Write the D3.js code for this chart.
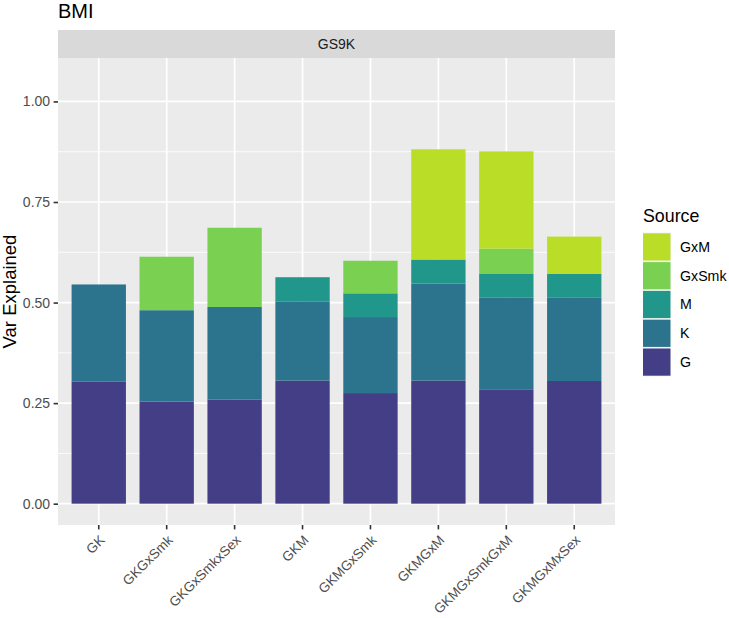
<!DOCTYPE html>
<html>
<head>
<meta charset="utf-8">
<script src="https://cdn.jsdelivr.net/npm/d3@7"></script>
<style>
  body { margin: 0; background: #fff; }
  svg { font-family: "Liberation Sans", Arial, Helvetica, sans-serif; }
</style>
</head>
<body>
<div id="chart"></div>
<script>
// data
var models = ["GK", "GKGxSmk", "GKGxSmkxSex", "GKM", "GKMGxSmk", "GKMGxM", "GKMGxSmkGxM", "GKMGxMxSex"];
var sources = ["G", "K", "M", "GxSmk", "GxM"];   // stacking order, bottom to top
var G     = [0.304, 0.254, 0.259, 0.306, 0.275, 0.306, 0.283, 0.305];
var K     = [0.241, 0.227, 0.230, 0.197, 0.189, 0.241, 0.229, 0.208];
var M     = [0.000, 0.000, 0.000, 0.060, 0.059, 0.060, 0.059, 0.058];
var GxSmk = [0.000, 0.133, 0.197, 0.000, 0.081, 0.000, 0.063, 0.000];
var GxM   = [0.000, 0.000, 0.000, 0.000, 0.000, 0.274, 0.242, 0.093];
var yTicks = [0, 0.25, 0.5, 0.75, 1];
var yMinor = [0.125, 0.375, 0.625, 0.875];
var colors = ["#433E85", "#2C738E", "#21968B", "#7AD151", "#BADE28"];

var width = 729, height = 618;
var panel = {left: 58, right: 615, top: 58, bottom: 525};
var smallFont = 14;

var rows = models.map(function(m, i) {
  return {model: m, G: G[i], K: K[i], M: M[i], GxSmk: GxSmk[i], GxM: GxM[i]};
});
var stacked = d3.stack().keys(sources)(rows);

// discrete axis with 0.6 step expansion on each side, bars 0.8 wide
var step = (panel.right - panel.left) / (models.length - 1 + 1.2);
var xScale = d3.scaleBand()
  .domain(models)
  .range([panel.left + 0.1 * step, panel.right - 0.1 * step])
  .paddingInner(0.2)
  .paddingOuter(0.1);

var yScale = d3.scaleLinear()
  .domain([-0.053, 1.108])
  .range([panel.bottom, panel.top]);

var color = d3.scaleOrdinal().domain(sources).range(colors);

var svg = d3.select("#chart").append("svg")
  .attr("width", width)
  .attr("height", height);

// title
svg.append("text")
  .attr("x", panel.left)
  .attr("y", 18)
  .attr("font-size", 20)
  .attr("fill", "#000")
  .text("BMI");

// strip
svg.append("rect")
  .attr("x", panel.left).attr("y", 30)
  .attr("width", panel.right - panel.left).attr("height", 28)
  .attr("fill", "#D9D9D9");
svg.append("text")
  .attr("x", (panel.left + panel.right) / 2)
  .attr("y", 44)
  .attr("dy", "0.35em")
  .attr("text-anchor", "middle")
  .attr("font-size", smallFont)
  .attr("fill", "#1A1A1A")
  .text("GS9K");

// panel
svg.append("rect")
  .attr("x", panel.left).attr("y", panel.top)
  .attr("width", panel.right - panel.left).attr("height", panel.bottom - panel.top)
  .attr("fill", "#EBEBEB");

var grid = svg.append("g");
grid.selectAll(".minor").data(yMinor).enter().append("line")
  .attr("x1", panel.left).attr("x2", panel.right)
  .attr("y1", yScale).attr("y2", yScale)
  .attr("stroke", "#fff").attr("stroke-width", 0.85);
grid.selectAll(".major").data(yTicks).enter().append("line")
  .attr("x1", panel.left).attr("x2", panel.right)
  .attr("y1", yScale).attr("y2", yScale)
  .attr("stroke", "#fff").attr("stroke-width", 1.7);
grid.selectAll(".vmajor").data(models).enter().append("line")
  .attr("x1", function(d) { return xScale(d) + xScale.bandwidth() / 2; })
  .attr("x2", function(d) { return xScale(d) + xScale.bandwidth() / 2; })
  .attr("y1", panel.top).attr("y2", panel.bottom)
  .attr("stroke", "#fff").attr("stroke-width", 1.7);

// bars
svg.append("g").selectAll("g")
  .data(stacked)
  .enter().append("g")
    .attr("fill", function(d) { return color(d.key); })
  .selectAll("rect")
  .data(function(d) { return d.filter(function(p) { return p[1] - p[0] > 0; }); })
  .enter().append("rect")
    .attr("x", function(d) { return xScale(d.data.model); })
    .attr("width", xScale.bandwidth())
    .attr("y", function(d) { return yScale(d[1]); })
    .attr("height", function(d) { return yScale(d[0]) - yScale(d[1]); });

// y axis
var yAxis = svg.append("g")
  .attr("transform", "translate(" + panel.left + ",0)")
  .call(d3.axisLeft(yScale).tickValues(yTicks).tickFormat(d3.format(".2f")).tickSize(4.4).tickPadding(3.5));
yAxis.select(".domain").remove();
yAxis.selectAll(".tick line").attr("stroke", "#333333").attr("stroke-width", 1.6);
yAxis.selectAll(".tick text")
  .attr("fill", "#4D4D4D")
  .attr("font-size", smallFont)
  .attr("font-family", "'Liberation Sans', Arial, sans-serif");

// x axis
var xAxis = svg.append("g")
  .attr("transform", "translate(0," + panel.bottom + ")")
  .call(d3.axisBottom(xScale).tickSize(4.4));
xAxis.select(".domain").remove();
xAxis.selectAll(".tick line").attr("stroke", "#333333").attr("stroke-width", 1.6);
xAxis.selectAll(".tick text")
  .attr("fill", "#4D4D4D")
  .attr("font-size", 13.6)
  .attr("font-family", "'Liberation Sans', Arial, sans-serif")
  .attr("text-anchor", "end")
  .attr("x", 0).attr("y", 0).attr("dy", "0.72em")
  .attr("transform", "translate(0,9) rotate(-45)");

// y title
svg.append("text")
  .attr("transform", "translate(16," + ((panel.top + panel.bottom) / 2) + ") rotate(-90)")
  .attr("text-anchor", "middle")
  .attr("font-size", 18.5)
  .attr("fill", "#000")
  .text("Var Explained");

// legend
var legend = svg.append("g").attr("transform", "translate(643,0)");
legend.append("text")
  .attr("x", 0).attr("y", 221.5)
  .attr("font-size", 17.8)
  .attr("fill", "#000")
  .text("Source");
var legendKeys = sources.slice().reverse();
var item = legend.selectAll(".item").data(legendKeys).enter().append("g")
  .attr("transform", function(d, i) { return "translate(0," + (232.5 + i * 28.8) + ")"; });
item.append("rect")
  .attr("x", 0).attr("y", 0)
  .attr("width", 27.5).attr("height", 28.8)
  .attr("fill", "#F2F2F2");
item.append("rect")
  .attr("x", 0).attr("y", 0.8)
  .attr("width", 27.5).attr("height", 27.2)
  .attr("fill", function(d) { return color(d); });
item.append("text")
  .attr("x", 37).attr("y", 14.4)
  .attr("dy", "0.35em")
  .attr("font-size", 14.2)
  .attr("fill", "#000")
  .text(function(d) { return d; });
</script>
</body>
</html>
